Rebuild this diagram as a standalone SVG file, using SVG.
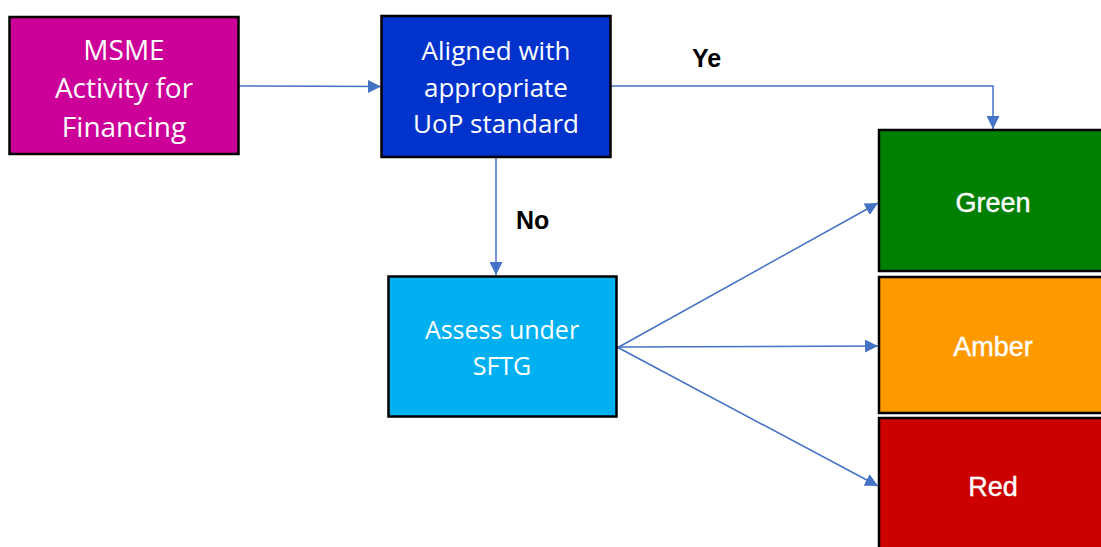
<svg xmlns="http://www.w3.org/2000/svg" width="1101" height="547" viewBox="0 0 1101 547">
<style>
.box{stroke:#000;stroke-width:2.5}
.t{font-family:"Open Sans","Liberation Sans",sans-serif;fill:#fff;text-anchor:middle}
.c{font-family:"Liberation Sans",Arial,sans-serif;font-size:27px;fill:#fff;text-anchor:middle;stroke:#fff;stroke-width:0.4}
.lbl{font-family:"Liberation Sans",Arial,sans-serif;font-size:25px;font-weight:bold;fill:#000}
.ln{stroke:#4472C4;stroke-width:1.5;fill:none;marker-end:url(#ah)}
</style>
<defs>
<marker id="ah" viewBox="0 0 10 10" refX="10" refY="5" markerWidth="13" markerHeight="13" markerUnits="userSpaceOnUse" orient="auto">
<path d="M0,0 L10,5 L0,10 Z" fill="#4472C4"/>
</marker>
</defs>
<rect width="1101" height="547" fill="#fff"/>
<g id="connectors">
<path class="ln" d="M239,86 L381,86.5"/>
<path class="ln" d="M611,86 L993,86 L993,129"/>
<path class="ln" d="M496,157 L496,275"/>
<path class="ln" d="M617,348 L878,203"/>
<path class="ln" d="M617,347 L878,346"/>
<path class="ln" d="M617,347 L878,486"/>
<text class="lbl" x="692" y="67">Ye</text>
<text class="lbl" x="516" y="229">No</text>
</g>
<g id="msme">
<rect class="box" x="9.5" y="17" width="229" height="137" fill="#CC0099"/>
<text class="t" x="124" y="60" font-size="28">MSME</text>
<text class="t" x="124" y="98" font-size="28">Activity for</text>
<text class="t" x="124" y="137" font-size="28">Financing</text>
</g>
<g id="aligned">
<rect class="box" x="381.5" y="16" width="229" height="141" fill="#0033CC"/>
<text class="t" x="496" y="60" font-size="26">Aligned with</text>
<text class="t" x="496" y="97" font-size="26">appropriate</text>
<text class="t" x="496" y="133" font-size="26">UoP standard</text>
</g>
<g id="assess">
<rect class="box" x="388.5" y="276.5" width="228" height="140" fill="#00B0F0"/>
<text class="t" x="502" y="339" font-size="25">Assess under</text>
<text class="t" x="502" y="375" font-size="25">SFTG</text>
</g>
<g id="green">
<rect class="box" x="879" y="130" width="230" height="141" fill="#008000"/>
<text class="c" x="993" y="212">Green</text>
</g>
<g id="amber">
<rect class="box" x="879" y="277" width="230" height="136" fill="#FF9900"/>
<text class="c" x="993" y="356">Amber</text>
</g>
<g id="red">
<rect class="box" x="879" y="418" width="230" height="140" fill="#CC0000"/>
<text class="c" x="993" y="496">Red</text>
</g>
</svg>
